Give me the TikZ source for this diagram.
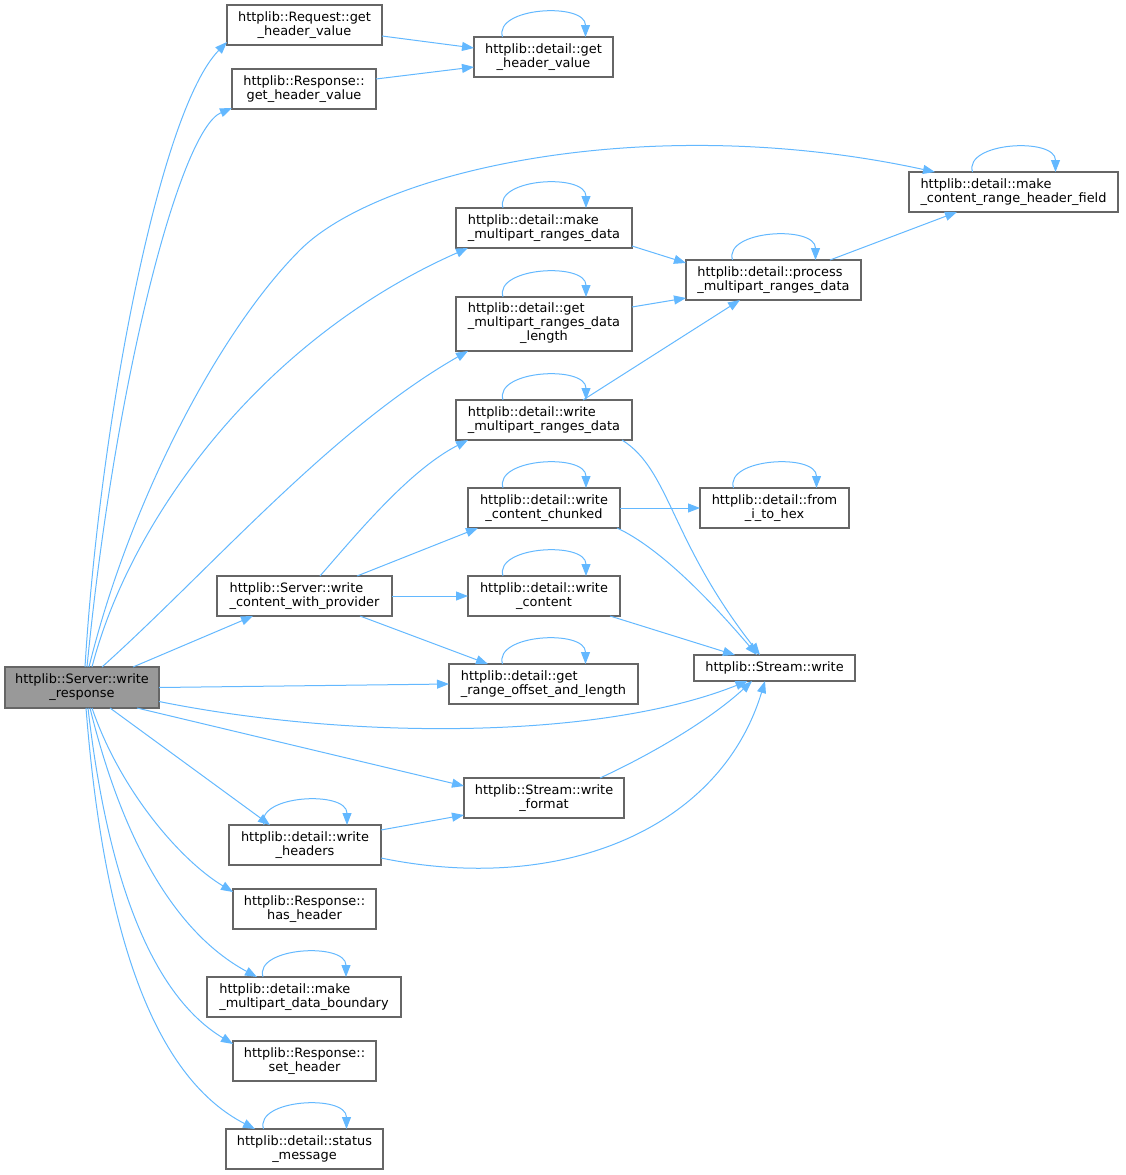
\documentclass[tikz,border=0pt]{standalone}
\usepackage{fontspec}
\setmainfont{DejaVu Sans}
\usetikzlibrary{arrows.meta}
\definecolor{edgec}{HTML}{63B8FF}
\definecolor{nodeb}{HTML}{666666}
\definecolor{mainf}{HTML}{999999}
\newcommand\sloop[1]{\draw[edge] ([xshift=-41pt]#1.north) .. controls +(-9,-30) and +(0,-35) .. ([xshift=42pt]#1.north);}
\begin{document}
\begin{tikzpicture}[x=1pt,y=-1pt,
  box/.style={draw=nodeb, line width=1.2pt, fill=white, inner sep=0pt, outer sep=0pt,
    font=\fontsize{12.9}{14}\selectfont, align=center},
  lbox/.style={box, align=left},
  dims/.style 2 args={minimum width=#1pt, minimum height=#2pt},
  edge/.style={draw=edgec, line width=1pt, -{Triangle[length=12pt,width=9pt]}},
]
\useasboundingbox (0,0) rectangle (1125,1175);

% nodes
\node[box, fill=mainf, dims={154}{41}] (wr) at (82,687.5) {httplib::Server::write\\\_response};
\node[box, dims={155}{40}] (reqgh) at (304.5,25) {httplib::Request::get\\\_header\_value};
\node[box, dims={144}{40}] (resgh) at (304,89) {httplib::Response::\\get\_header\_value};
\node[box, dims={139}{40}] (dgh) at (543.5,57) {httplib::detail::get\\\_header\_value};
\node[lbox, dims={209}{40}] (mcr) at (1013.5,192) {httplib::detail::make\\\_content\_range\_header\_field};
\node[lbox, dims={176}{40}] (mmr) at (544,228) {httplib::detail::make\\\_multipart\_ranges\_data};
\node[lbox, dims={175}{40}] (pmr) at (773.5,280) {httplib::detail::process\\\_multipart\_ranges\_data};
\node[box, dims={176}{54}] (gmrl) at (544,324) {\begin{tabular}{@{}l@{}}httplib::detail::get\\\_multipart\_ranges\_data\\\multicolumn{1}{@{}c@{}}{\_length}\end{tabular}};
\node[lbox, dims={176}{40}] (wmr) at (544,420) {httplib::detail::write\\\_multipart\_ranges\_data};
\node[box, dims={152}{40}] (wcc) at (544,508) {httplib::detail::write\\\_content\_chunked};
\node[box, dims={149}{40}] (hex) at (774.5,508) {httplib::detail::from\\\_i\_to\_hex};
\node[lbox, dims={175}{40}] (wcp) at (304.5,596) {httplib::Server::write\\\_content\_with\_provider};
\node[box, dims={152}{40}] (wc) at (544,596) {httplib::detail::write\\\_content};
\node[box, dims={161}{26}] (sw) at (774.5,668) {httplib::Stream::write};
\node[lbox, dims={189}{40}] (gro) at (543.5,684) {httplib::detail::get\\\_range\_offset\_and\_length};
\node[box, dims={160}{40}] (wf) at (544,798) {httplib::Stream::write\\\_format};
\node[box, dims={152}{40}] (wh) at (305,845) {httplib::detail::write\\\_headers};
\node[box, dims={143}{40}] (hh) at (304.5,909) {httplib::Response::\\has\_header};
\node[lbox, dims={194}{40}] (mdb) at (304,997) {httplib::detail::make\\\_multipart\_data\_boundary};
\node[box, dims={143}{40}] (sh) at (304.5,1061) {httplib::Response::\\set\_header};
\node[box, dims={157}{40}] (sm) at (304.5,1149) {httplib::detail::status\\\_message};

% edges from write_response
\draw[edge] ([xshift=3pt]wr.north) .. controls (100,420) and (160,110) .. ([yshift=-17pt]reqgh.west);
\draw[edge] ([xshift=5pt]wr.north) .. controls (115,380) and (180,130) .. ([yshift=-19pt]resgh.west);
\draw[edge] ([xshift=7pt]wr.north) .. controls (130,500) and (220,330) .. (300,250) .. controls (380,170) and (650,110) .. ([xshift=26pt]mcr.north west);
\draw[edge] ([xshift=10pt]wr.north) .. controls (130,520) and (260,340) .. ([xshift=12pt]mmr.south west);
\draw[edge] ([xshift=20pt]wr.north) .. controls (210,570) and (330,430) .. ([xshift=12pt]gmrl.south west);
\draw[edge] ([xshift=51pt]wr.north) -- ([xshift=36pt]wcp.south west);
\draw[edge] (wr.east) -- (gro.west);
\draw[edge] ([yshift=-14pt]wr.east) .. controls (350,740) and (600,740) .. ([xshift=-27pt]sw.south);
\draw[edge] ([xshift=55pt]wr.south) -- ([yshift=12pt]wf.west);
\draw[edge] ([xshift=28pt]wr.south) -- ([xshift=41pt]wh.north west);
\draw[edge] ([xshift=10pt]wr.south) .. controls (120,790) and (180,860) .. ([yshift=17pt]hh.west);
\draw[edge] ([xshift=8pt]wr.south) .. controls (120,830) and (170,930) .. ([xshift=50pt]mdb.north west);
\draw[edge] ([xshift=6pt]wr.south) .. controls (110,900) and (160,1000) .. ([yshift=17pt]sh.west);
\draw[edge] ([xshift=4pt]wr.south) .. controls (105,950) and (160,1080) .. ([xshift=29pt]sm.north west);

% other edges
\draw[edge] ([yshift=-11pt]reqgh.east) -- ([yshift=9pt]dgh.west);
\draw[edge] ([yshift=10pt]resgh.east) -- ([yshift=-10pt]dgh.west);
\draw[edge] ([yshift=2pt]mmr.south east) -- ([yshift=17pt]pmr.west);
\draw[edge] ([yshift=17pt]gmrl.east) -- ([yshift=-18pt]pmr.west);
\draw[edge] ([xshift=39pt]wmr.north) -- ([xshift=-33.5pt]pmr.south);
\draw[edge] ([xshift=56.5pt]pmr.north) -- ([xshift=-56.5pt]mcr.south);
\draw[edge] ([xshift=-10pt]wmr.south east) .. controls (670,470) and (670,540) .. ([xshift=-14.5pt]sw.north);
\draw[edge] (wcc.east) -- (hex.west);
\draw[edge] ([xshift=-3pt]wcc.south east) .. controls (660,548) and (710,600) .. ([xshift=-17.5pt]sw.north);
\draw[edge] ([xshift=-10pt]wc.south east) -- ([xshift=-39.5pt]sw.north);
\draw[edge] ([xshift=56pt]wf.north) .. controls (650,755) and (710,720) .. ([xshift=-22.5pt]sw.south);
\draw[edge] ([yshift=15pt]wh.east) -- ([yshift=-17pt]wf.west);
\draw[edge] ([yshift=-13pt]wh.east) .. controls (560,895) and (720,830) .. ([xshift=-9.5pt]sw.south);
\draw[edge] ([xshift=15.5pt]wcp.north) .. controls (360,530) and (410,470) .. ([xshift=12pt]wmr.south west);
\draw[edge] ([xshift=52.5pt]wcp.north) -- ([xshift=10pt]wcc.south west);
\draw[edge] (wcp.east) -- (wc.west);
\draw[edge] ([xshift=55.5pt]wcp.south) -- ([xshift=39pt]gro.north west);

% self loops
\sloop{dgh}
\sloop{mcr}
\sloop{mmr}
\sloop{pmr}
\sloop{gmrl}
\sloop{wmr}
\sloop{wcc}
\sloop{hex}
\sloop{wc}
\sloop{gro}
\sloop{wh}
\sloop{mdb}
\sloop{sm}
\end{tikzpicture}
\end{document}
